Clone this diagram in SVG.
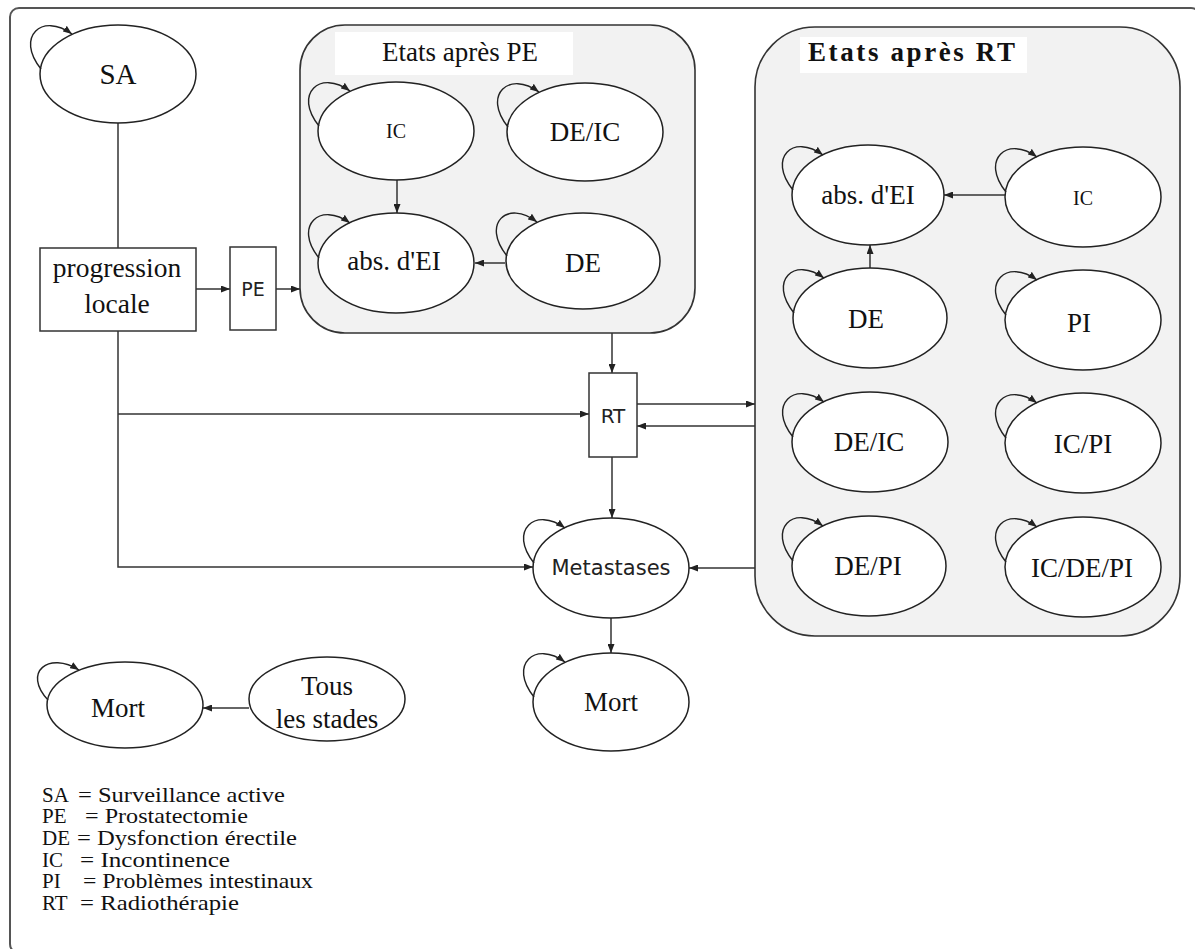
<svg xmlns="http://www.w3.org/2000/svg" width="1195" height="949" viewBox="0 0 1195 949">
  <style>
    .frame { fill: none; stroke: #555; stroke-width: 2; }
    .cluster { fill: #f2f2f2; stroke: #333; stroke-width: 1.6; }
    .node { fill: #fff; stroke: #222; stroke-width: 1.5; }
    .box { fill: #fff; stroke: #333; stroke-width: 1.5; }
    .edge { fill: none; stroke: #333; stroke-width: 1.5; }
    .loop { fill: none; stroke: #222; stroke-width: 1.4; }
    .serif { font-family: "Liberation Serif", "Times New Roman", serif; fill: #111; }
    .sans { font-family: "DejaVu Sans", Verdana, sans-serif; fill: #222; }
    .lbl { font-size: 27px; text-anchor: middle; }
    .small { font-size: 20px; text-anchor: middle; }
    .legend { font-size: 21px; }
  </style>
  <defs>
    <marker id="arrow" markerUnits="userSpaceOnUse" markerWidth="9" markerHeight="7" refX="9" refY="3.5" orient="auto">
      <path d="M0,0 L9,3.5 L0,7 z" fill="#222"/>
    </marker>
  </defs>

  <rect width="1195" height="949" fill="#fff"/>
  <!-- outer frame -->
  <rect class="frame" x="10" y="8" width="1190" height="945" rx="9"/>

  <!-- cluster: states after prostatectomy -->
  <g id="cluster-pe">
    <rect class="cluster" x="300" y="25" width="395" height="308" rx="45"/>
    <rect x="335" y="32" width="238" height="43" fill="#fff"/>
    <text class="serif" x="460" y="61" font-size="27" text-anchor="middle">Etats après PE</text>
  </g>

  <!-- cluster: states after radiotherapy -->
  <g id="cluster-rt">
    <rect class="cluster" x="755" y="27" width="425" height="609" rx="60"/>
    <rect x="800" y="37" width="227" height="36" fill="#fff"/>
    <text class="serif" x="808" y="61" font-size="27" font-weight="bold" textLength="207" lengthAdjust="spacing">Etats après RT</text>
  </g>

  <!-- connectors -->
  <g id="connectors">
    <path class="edge" d="M118,123 V248"/>
    <path class="edge" d="M196,289 H230" marker-end="url(#arrow)"/>
    <path class="edge" d="M276,289 H300" marker-end="url(#arrow)"/>
    <path class="edge" d="M118,331 V567 H533" marker-end="url(#arrow)"/>
    <path class="edge" d="M118,414 H589" marker-end="url(#arrow)"/>
    <path class="edge" d="M612,333 V373" marker-end="url(#arrow)"/>
    <path class="edge" d="M637,404 H755" marker-end="url(#arrow)"/>
    <path class="edge" d="M755,426 H637" marker-end="url(#arrow)"/>
    <path class="edge" d="M612,457 V518" marker-end="url(#arrow)"/>
    <path class="edge" d="M755,568 H689" marker-end="url(#arrow)"/>
    <path class="edge" d="M611,618 V653" marker-end="url(#arrow)"/>
    <path class="edge" d="M249,708 H203" marker-end="url(#arrow)"/>
    <path class="edge" d="M397,180 V213" marker-end="url(#arrow)"/>
    <path class="edge" d="M505,263 H475" marker-end="url(#arrow)"/>
    <path class="edge" d="M1005,195 H944" marker-end="url(#arrow)"/>
    <path class="edge" d="M870,268 V245" marker-end="url(#arrow)"/>
  </g>

  <!-- state nodes (ellipse + self-transition loop) -->
  <g id="node-sa" transform="translate(118,74)">
    <ellipse class="node" rx="78" ry="49"/>
    <path class="loop" d="M-77,-5 C-103,-37 -76,-62 -46,-40" marker-end="url(#arrow)"/>
    <text class="serif" x="0" y="10" font-size="29" text-anchor="middle">SA</text>
  </g>

  <g id="node-progression">
    <rect class="box" x="40" y="248" width="156" height="83"/>
    <text class="serif" x="117" y="277" font-size="27.5" text-anchor="middle">progression</text>
    <text class="serif" x="117" y="313" font-size="27.5" text-anchor="middle">locale</text>
  </g>

  <g id="node-pe">
    <rect class="box" x="230" y="247" width="46" height="83"/>
    <text class="sans" x="253" y="296" font-size="19" text-anchor="middle">PE</text>
  </g>

  <g id="node-pe-ic" transform="translate(396,131)">
    <ellipse class="node" rx="78" ry="49"/>
    <path class="loop" d="M-77,-5 C-103,-37 -76,-62 -46,-40" marker-end="url(#arrow)"/>
    <text class="serif small" x="0" y="7">IC</text>
  </g>
  <g id="node-pe-deic" transform="translate(585,132)">
    <ellipse class="node" rx="78" ry="49"/>
    <path class="loop" d="M-77,-5 C-103,-37 -76,-62 -46,-40" marker-end="url(#arrow)"/>
    <text class="serif lbl" x="0" y="9">DE/IC</text>
  </g>
  <g id="node-pe-absei" transform="translate(396,263)">
    <ellipse class="node" rx="78" ry="50"/>
    <path class="loop" d="M-77,-5 C-103,-37 -76,-62 -46,-40" marker-end="url(#arrow)"/>
    <text class="serif lbl" x="-2" y="7">abs. d'EI</text>
  </g>
  <g id="node-pe-de" transform="translate(583,261)">
    <ellipse class="node" rx="77" ry="48"/>
    <path class="loop" d="M-76,-5 C-102,-37 -76,-62 -46,-39" marker-end="url(#arrow)"/>
    <text class="serif lbl" x="0" y="11">DE</text>
  </g>

  <g id="node-rt">
    <rect class="box" x="589" y="373" width="48" height="84"/>
    <text class="sans" x="613" y="423" font-size="20" text-anchor="middle">RT</text>
  </g>

  <g id="node-rt-absei" transform="translate(868,195)">
    <ellipse class="node" rx="76" ry="50"/>
    <path class="loop" d="M-75,-5 C-101,-37 -75,-62 -45,-40" marker-end="url(#arrow)"/>
    <text class="serif lbl" x="0" y="9">abs. d'EI</text>
  </g>
  <g id="node-rt-ic" transform="translate(1083,197)">
    <ellipse class="node" rx="78" ry="50"/>
    <path class="loop" d="M-77,-5 C-103,-37 -76,-62 -46,-40" marker-end="url(#arrow)"/>
    <text class="serif small" x="0" y="8">IC</text>
  </g>
  <g id="node-rt-de" transform="translate(870,318)">
    <ellipse class="node" rx="77" ry="50"/>
    <path class="loop" d="M-76,-5 C-102,-37 -76,-62 -46,-40" marker-end="url(#arrow)"/>
    <text class="serif lbl" x="-4" y="10">DE</text>
  </g>
  <g id="node-rt-pi" transform="translate(1083,320)">
    <ellipse class="node" rx="78" ry="50"/>
    <path class="loop" d="M-77,-5 C-103,-37 -76,-62 -46,-40" marker-end="url(#arrow)"/>
    <text class="serif lbl" x="-4" y="12">PI</text>
  </g>
  <g id="node-rt-deic" transform="translate(870,442)">
    <ellipse class="node" rx="78" ry="50"/>
    <path class="loop" d="M-77,-5 C-103,-37 -76,-62 -46,-40" marker-end="url(#arrow)"/>
    <text class="serif lbl" x="-1" y="9">DE/IC</text>
  </g>
  <g id="node-rt-icpi" transform="translate(1083,443)">
    <ellipse class="node" rx="78" ry="50"/>
    <path class="loop" d="M-77,-5 C-103,-37 -76,-62 -46,-40" marker-end="url(#arrow)"/>
    <text class="serif lbl" x="0" y="10">IC/PI</text>
  </g>
  <g id="node-rt-depi" transform="translate(869,566)">
    <ellipse class="node" rx="77" ry="50"/>
    <path class="loop" d="M-76,-5 C-102,-37 -76,-62 -46,-40" marker-end="url(#arrow)"/>
    <text class="serif lbl" x="-1" y="9">DE/PI</text>
  </g>
  <g id="node-rt-icdepi" transform="translate(1083,567)">
    <ellipse class="node" rx="78" ry="50"/>
    <path class="loop" d="M-77,-5 C-103,-37 -76,-62 -46,-40" marker-end="url(#arrow)"/>
    <text class="serif lbl" x="-1" y="10">IC/DE/PI</text>
  </g>

  <g id="node-metastases" transform="translate(611,568)">
    <ellipse class="node" rx="78" ry="50"/>
    <path class="loop" d="M-77,-5 C-103,-37 -76,-62 -46,-40" marker-end="url(#arrow)"/>
    <text class="sans" x="0" y="7" font-size="21" text-anchor="middle">Metastases</text>
  </g>
  <g id="node-mort" transform="translate(611,702)">
    <ellipse class="node" rx="78" ry="49"/>
    <path class="loop" d="M-77,-5 C-103,-37 -76,-62 -46,-40" marker-end="url(#arrow)"/>
    <text class="serif lbl" x="0" y="9">Mort</text>
  </g>

  <g id="node-mort-any" transform="translate(125,705)">
    <ellipse class="node" rx="78" ry="43"/>
    <path class="loop" d="M-77,-5 C-103,-33 -76,-54 -46,-35" marker-end="url(#arrow)"/>
    <text class="serif lbl" x="-7" y="12">Mort</text>
  </g>
  <g id="node-tous" transform="translate(327,699)">
    <ellipse class="node" rx="78" ry="42"/>
    <text class="serif lbl" x="0" y="-4">Tous</text>
    <text class="serif lbl" x="0" y="29">les stades</text>
  </g>

  <!-- abbreviations -->
  <g id="legend" class="serif legend">
    <text x="42" y="802">SA</text>
    <text x="78" y="802" textLength="207" lengthAdjust="spacingAndGlyphs">= Surveillance active</text>
    <text x="42" y="823">PE</text>
    <text x="85" y="823" textLength="163" lengthAdjust="spacingAndGlyphs">= Prostatectomie</text>
    <text x="42" y="845">DE</text>
    <text x="77" y="845" textLength="220" lengthAdjust="spacingAndGlyphs">= Dysfonction érectile</text>
    <text x="42" y="867">IC</text>
    <text x="80" y="867" textLength="150" lengthAdjust="spacingAndGlyphs">= Incontinence</text>
    <text x="42" y="888">PI</text>
    <text x="83" y="888" textLength="230" lengthAdjust="spacingAndGlyphs">= Problèmes intestinaux</text>
    <text x="42" y="910">RT</text>
    <text x="80" y="910" textLength="159" lengthAdjust="spacingAndGlyphs">= Radiothérapie</text>
  </g>
</svg>
